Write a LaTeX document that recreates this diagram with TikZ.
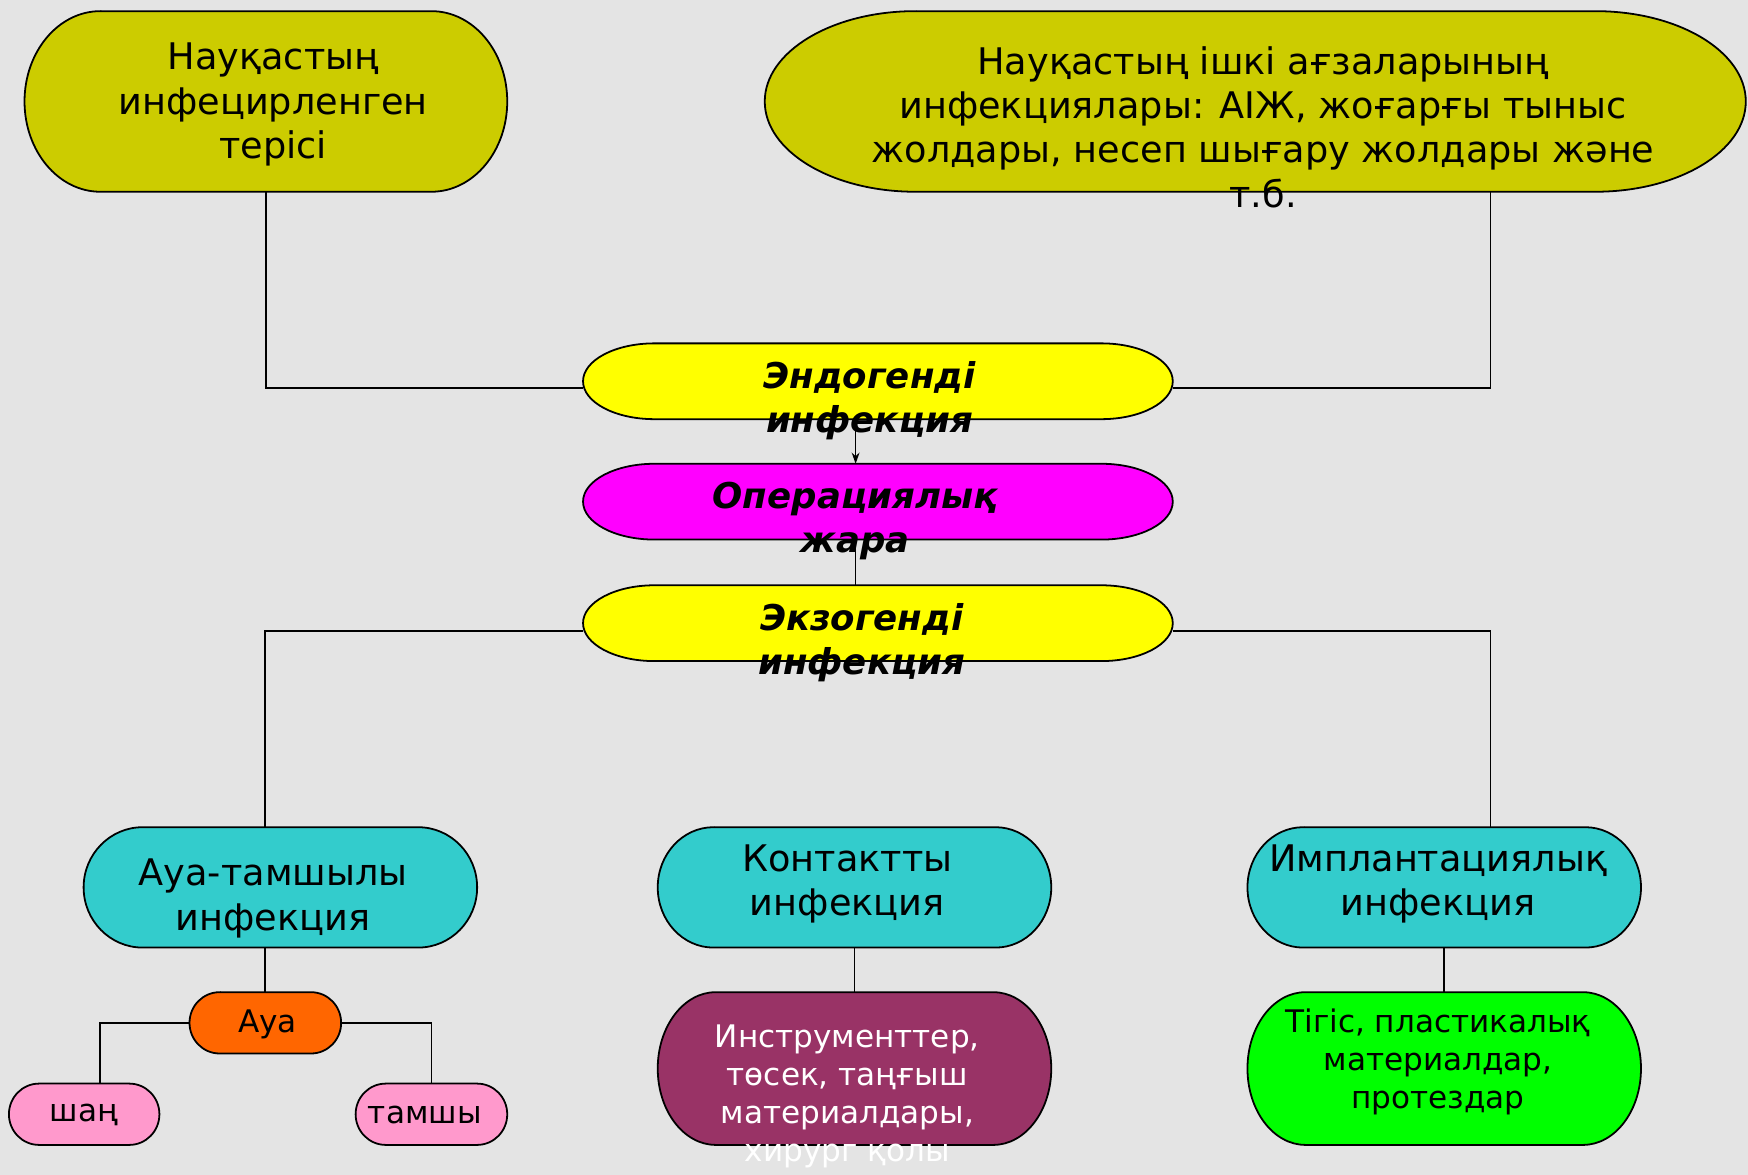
\documentclass[tikz,border=0pt]{standalone}
\usepackage{fontspec}
\setmainfont{DejaVu Sans}
\usetikzlibrary{calc,arrows.meta}
\definecolor{bgc}{RGB}{228,228,228}
\definecolor{oliveY}{RGB}{204,204,0}
\definecolor{brightY}{RGB}{255,255,0}
\definecolor{magentaC}{RGB}{255,0,255}
\definecolor{cyanC}{RGB}{51,204,204}
\definecolor{orangeC}{RGB}{255,102,0}
\definecolor{pinkC}{RGB}{255,153,204}
\definecolor{maroonC}{RGB}{153,51,102}
\definecolor{greenC}{RGB}{0,255,0}
\newcommand\fntA{\fontsize{33}{40}\selectfont}
\newcommand\fntB{\bfseries\itshape\fontsize{32}{40}\selectfont}
\newcommand\fntC{\fontsize{28}{34.5}\selectfont}
\tikzset{
  shapeline/.style={draw=black, line width=1.6bp},
  anchorbox/.style={rectangle, draw=none, inner sep=0pt, outer sep=0pt},
  txt/.style={align=center, inner sep=0pt, text=black},
  conn/.style={draw=black, line width=1.5bp},
}
\newcommand\pillbox[7]{%
  \pgfmathsetmacro\pcx{(#2+#4)/2}%
  \pgfmathsetmacro\pcy{-(#3+#5)/2}%
  \pgfmathsetmacro\pw{#4-#2}%
  \pgfmathsetmacro\ph{#5-#3}%
  \pgfmathsetmacro\pry{(#5-#3)/2}%
  \path[shapeline, fill=#7] (#2+#6,-#3) -- (#4-#6,-#3)
     arc[start angle=90,end angle=-90,x radius=#6bp,y radius=\pry bp]
     -- (#2+#6,-#5)
     arc[start angle=270,end angle=90,x radius=#6bp,y radius=\pry bp] -- cycle;
  \node[anchorbox, minimum width=\pw bp, minimum height=\ph bp] (#1) at (\pcx,\pcy) {};
}
\begin{document}
\begin{tikzpicture}[x=1bp,y=1bp]
\fill[bgc] (0,0) rectangle (1568,-1054);
\useasboundingbox (0,0) rectangle (1568,-1054);

% shapes
\pillbox{tl}{22}{10}{455}{172}{68}{oliveY}
\pillbox{tr}{686}{10}{1566}{172}{135}{oliveY}
\pillbox{endo}{523}{308}{1052}{376}{64}{brightY}
\pillbox{oper}{523}{416}{1052}{484}{64}{magentaC}
\pillbox{exo}{523}{525}{1052}{593}{64}{brightY}
\pillbox{air}{75}{742}{428}{850}{53}{cyanC}
\pillbox{contact}{590}{742}{943}{850}{50}{cyanC}
\pillbox{impl}{1119}{742}{1472}{850}{50}{cyanC}
\pillbox{aua}{170}{890}{306}{945}{27}{orangeC}
\pillbox{shan}{8}{972}{143}{1027}{27}{pinkC}
\pillbox{tamshy}{319}{972}{455}{1027}{27}{pinkC}
\pillbox{instr}{590}{890}{943}{1027}{52}{maroonC}
\pillbox{tigis}{1119}{890}{1472}{1027}{52}{greenC}

% connectors
\draw[conn] (tl.south) |- ($(endo.west)+(0,-6)$);
\draw[conn] ($(tr.south)+(211,0)$) |- ($(endo.east)+(0,-6)$);
\draw[conn,-{Stealth[length=10bp,width=7bp]}] ($(endo.south)+(-20,0)$) -- ($(oper.north)+(-20,0)$);
\draw[conn] ($(oper.south)+(-20,0)$) -- ($(exo.north)+(-20,0)$);
\draw[conn] ($(exo.west)+(0,-7)$) -| ($(air.north)+(-13.5,0)$);
\draw[conn] ($(exo.east)+(0,-7)$) -| ($(impl.north)+(41.5,0)$);
\draw[conn] ($(air.south)+(-13.5,0)$) -- (aua.north);
\draw[conn] (aua.west) -| ($(shan.north)+(14.5,0)$);
\draw[conn] (aua.east) -| (tamshy.north);
\draw[conn] (contact.south) -- (instr.north);
\draw[conn] (impl.south) -- (tigis.north);

% texts
\node[txt, font=\fntA] (tl-t) at (245,-94) {Науқастың\\инфецирленген\\терісі};
\node[txt, font=\fntA] (tr-t) at (1133,-114) {Науқастың ішкі ағзаларының\\инфекциялары: АІЖ, жоғарғы тыныс\\жолдары, несеп шығару жолдары және\\т.б.};
\node[txt, font=\fntB] (endo-t) at (780,-359.5) {Эндогенді\\инфекция};
\node[txt, font=\fntB] (oper-t) at (767,-467.5) {Операциялық\\жара};
\node[txt, font=\fntB] (exo-t) at (773,-576.5) {Экзогенді\\инфекция};
\node[txt, font=\fntA] (air-t) at (245,-806) {Ауа-тамшылы\\инфекция};
\node[txt, font=\fntA] (contact-t) at (760,-793) {Контактты\\инфекция};
\node[txt, font=\fntA] (impl-t) at (1290,-793) {Имплантациялық\\инфекция};
\node[txt, font=\fntC] (aua-t) at (240,-918.5) {Ауа};
\node[txt, font=\fntC] (shan-t) at (75,-1000.5) {шаң};
\node[txt, font=\fntC] (tamshy-t) at (381,-1000.5) {тамшы};
\node[txt, font=\fntC, text=white] (instr-t) at (760,-983.5) {Инструменттер,\\төсек, таңғыш\\материалдары,\\хирург қолы};
\node[txt, font=\fntC] (tigis-t) at (1290,-952.5) {Тігіс, пластикалық\\материалдар,\\протездар};
\end{tikzpicture}
\end{document}
